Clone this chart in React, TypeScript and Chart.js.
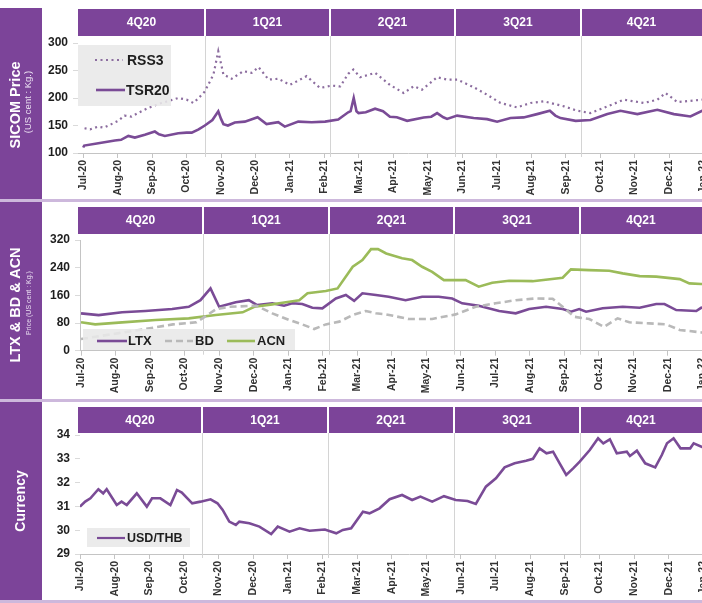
import React, { useEffect, useRef } from 'react';
import { Chart, registerables } from 'chart.js';

Chart.register(...registerables);

const FONT = '"Liberation Sans", Arial, sans-serif';
const PURPLE = '#7c4499';
const LINE_PURPLE = '#7a4b96';
const VIEW_W = 702;

const MONTHS = ['Jul-20', 'Aug-20', 'Sep-20', 'Oct-20', 'Nov-20', 'Dec-20', 'Jan-21', 'Feb-21', 'Mar-21', 'Apr-21', 'May-21', 'Jun-21', 'Jul-21', 'Aug-21', 'Sep-21', 'Oct-21', 'Nov-21', 'Dec-21', 'Jan-22', 'Feb-22'];
const QUARTERS = ['4Q20', '1Q21', '2Q21', '3Q21', '4Q21'];
// quarter header boundaries, in month index units (0 = Jul-20)
const QUARTER_BOUNDS = [3.53, 7.17, 10.79, 14.45];

// [month index, value]
const RSS3: [number, number][] = [[0.04,145],[0.2,143],[0.43,148],[0.6,146],[0.82,152.5],[1.0,158],[1.2,168],[1.4,166],[1.59,172.6],[1.88,181.7],[2.27,190.9],[2.5,195],[2.76,200],[3.0,197],[3.2,190.9],[3.35,200],[3.53,212],[3.78,242.6],[3.92,285],[4.07,242.6],[4.31,235],[4.65,248.8],[4.89,245.7],[5.09,256],[5.38,233.5],[5.66,235],[6.0,224],[6.24,231.6],[6.48,239.7],[6.87,218.3],[7.21,222.5],[7.46,221],[7.69,244],[7.84,251.7],[8.04,237.8],[8.47,245.7],[8.9,224],[9.3,209],[9.59,221.4],[9.83,215.2],[10.27,237.8],[10.56,233.5],[10.85,233.5],[11.33,219.6],[11.72,206],[12.11,190.9],[12.59,183],[12.98,190.9],[13.37,194],[13.95,184.8],[14.34,176.8],[14.72,172.6],[15.21,184.8],[15.69,196.9],[16.27,190.9],[16.66,196.9],[16.9,209],[17.24,192.7],[17.96,196.9],[18.1,197]];
const TSR20: [number, number][] = [[0.0,110],[0.03,113.5],[0.44,117.7],[0.92,122.6],[1.1,124],[1.31,131],[1.5,128],[1.79,133],[2.08,139],[2.2,134],[2.37,131],[2.76,136],[3.0,137],[3.15,137],[3.35,143],[3.53,150],[3.75,160],[3.92,175.7],[4.0,162],[4.07,152.5],[4.2,150],[4.4,155.5],[4.69,157],[5.06,165],[5.32,152.5],[5.66,156],[5.85,148],[6.24,157],[6.63,156],[7.02,157],[7.4,161],[7.69,174],[7.76,176],[7.85,200],[7.93,176],[7.99,172.6],[8.2,174],[8.47,180.5],[8.7,176],[8.9,166],[9.1,165],[9.4,158.5],[9.88,164.7],[10.1,166],[10.27,172.6],[10.45,165],[10.56,162],[10.85,168],[11.33,163.5],[11.72,161.6],[12.01,157],[12.4,163.5],[12.78,164.7],[13.17,170.7],[13.54,176.8],[13.7,168],[13.85,163.5],[14.29,158.5],[14.72,160],[15.21,170.7],[15.59,176.8],[16.08,170.7],[16.66,178.6],[17.14,170.7],[17.62,166.5],[17.96,176.8],[18.1,178]];

const LTX: [number, number][] = [[0,108],[0.51,103],[1.19,111],[1.86,114.7],[2.64,120.5],[3.12,127],[3.46,146],[3.75,180],[4.0,127],[4.48,140],[4.86,146],[5.1,132],[5.54,137],[5.88,130],[6.12,137],[6.41,135],[6.7,124],[6.99,122.5],[7.38,151],[7.67,161],[7.91,144],[8.15,166],[8.54,161],[8.91,156],[9.4,146],[9.88,156],[10.36,156],[10.75,151],[11.04,137],[11.52,130],[12.11,115],[12.59,108],[12.98,120.5],[13.47,127],[13.95,120.5],[14.19,112.7],[14.43,120.5],[14.63,112.7],[15.11,122.5],[15.69,127],[16.18,124],[16.66,135],[16.9,135],[17.24,117.5],[17.82,114.7],[17.96,124],[18.1,126]];
const BD: [number, number][] = [[0,33.8],[0.72,45],[1.69,60],[2.66,76],[3.34,82],[3.58,98],[3.92,120.5],[4.3,127],[5.08,130],[5.54,108],[6.03,88.7],[6.41,76],[6.75,62.7],[7.09,76],[7.48,84],[7.87,103],[8.25,114.7],[8.54,108],[8.84,105],[9.49,91.6],[10.17,91.6],[10.85,105],[11.43,127],[12.01,137],[12.59,146],[13.17,151],[13.66,150],[13.95,127],[14.29,98],[14.72,91.6],[15.15,69],[15.54,93.5],[15.88,82],[16.46,79],[16.95,76],[17.34,60],[17.96,53],[18.1,52]];
const ACN: [number, number][] = [[0,82],[0.41,76],[1.19,82],[2.16,88.7],[3.12,93.5],[3.9,103],[4.68,111],[5.02,127],[5.54,134],[6.03,141.5],[6.32,146],[6.56,166],[7.09,172.4],[7.43,180],[7.87,242.6],[8.15,262],[8.4,293.7],[8.6,293.7],[8.84,281],[9.3,267],[9.59,262],[9.88,242.6],[10.17,228],[10.51,204],[11.14,204],[11.52,185],[11.91,196.5],[12.4,202],[13.08,201],[13.95,211],[14.19,235],[14.72,233],[15.3,231],[15.69,223.5],[16.18,215.7],[16.66,214],[17.34,207],[17.62,194.7],[17.96,193],[18.1,193]];

const USD_THB: [number, number][] = [[0.0,30.99],[0.15,31.2],[0.3,31.34],[0.53,31.72],[0.67,31.55],[0.77,31.72],[1.06,31.06],[1.2,31.2],[1.35,31.06],[1.64,31.55],[1.93,30.99],[2.08,31.34],[2.32,31.34],[2.61,31.06],[2.8,31.69],[2.94,31.58],[3.24,31.13],[3.48,31.2],[3.77,31.3],[3.97,31.13],[4.12,30.85],[4.31,30.36],[4.5,30.22],[4.6,30.36],[4.89,30.29],[5.18,30.15],[5.52,29.84],[5.71,30.15],[6.05,29.94],[6.34,30.08],[6.63,29.98],[7.07,30.03],[7.4,29.87],[7.59,30.01],[7.83,30.08],[8.17,30.78],[8.36,30.71],[8.65,30.92],[8.94,31.3],[9.3,31.48],[9.59,31.27],[9.83,31.41],[10.17,31.2],[10.51,31.43],[10.85,31.27],[11.19,31.23],[11.43,31.1],[11.72,31.83],[12.01,32.18],[12.26,32.64],[12.55,32.81],[12.88,32.92],[13.08,33.0],[13.27,33.44],[13.47,33.23],[13.66,33.3],[13.85,32.81],[14.04,32.32],[14.24,32.6],[14.43,32.88],[14.72,33.37],[14.96,33.86],[15.11,33.65],[15.3,33.82],[15.5,33.23],[15.79,33.3],[15.88,33.12],[16.08,33.34],[16.32,32.81],[16.61,32.64],[16.8,33.16],[16.95,33.65],[17.14,33.86],[17.34,33.44],[17.62,33.44],[17.72,33.65],[17.96,33.5],[18.1,33.5]];

type Series = { label: string; data: [number, number][]; color: string; width: number; dash: number[] };

type PanelProps = {
  top: number;
  height: number;
  yAxisWidth: number;
  xMin: number;
  pxPerMonth: number;
  yMin: number;
  yMax: number;
  yStep: number;
  padTop: number;
  xAxisH: number;
  hTop: number;
  hBottom: number;
  yBorder: boolean;
  series: Series[];
};

function PanelChart(p: PanelProps) {
  const ref = useRef<HTMLCanvasElement>(null);
  const xMax = 19;
  const width = Math.round(p.yAxisWidth + (xMax - p.xMin) * p.pxPerMonth);
  useEffect(() => {
    const canvas = ref.current!;
    const headerLeft = 78;
    const headerPlugin = {
      id: 'qheader',
      beforeDatasetsDraw(chart: any) {
        const { ctx, chartArea, scales } = chart;
        const x = scales.x;
        ctx.save();
        ctx.strokeStyle = '#d4d4d4';
        ctx.lineWidth = 1;
        QUARTER_BOUNDS.forEach((q) => {
          const px = Math.round(x.getPixelForValue(q)) + 0.5;
          ctx.beginPath();
          ctx.moveTo(px, p.hBottom);
          ctx.lineTo(px, chartArea.bottom + 4);
          ctx.stroke();
        });
        ctx.restore();
      },
      afterDraw(chart: any) {
        const { ctx, scales } = chart;
        const x = scales.x;
        ctx.save();
        ctx.fillStyle = PURPLE;
        ctx.fillRect(headerLeft, p.hTop, chart.width - headerLeft, p.hBottom - p.hTop);
        const xs = QUARTER_BOUNDS.map((q) => Math.round(x.getPixelForValue(q)));
        ctx.fillStyle = '#ffffff';
        xs.forEach((px) => ctx.fillRect(px - 1, p.hTop, 2, p.hBottom - p.hTop));
        const edges = [headerLeft, ...xs, VIEW_W];
        ctx.font = `bold 12px ${FONT}`;
        ctx.textAlign = 'center';
        ctx.textBaseline = 'middle';
        QUARTERS.forEach((q, i) => ctx.fillText(q, (edges[i] + edges[i + 1]) / 2, (p.hTop + p.hBottom) / 2 + 0.5));
        ctx.restore();
      },
    };
    const chart = new Chart(canvas, {
      type: 'line',
      data: {
        datasets: p.series.map((s) => ({
          label: s.label,
          data: s.data.map(([x, y]) => ({ x, y })),
          borderColor: s.color,
          backgroundColor: s.color,
          borderWidth: s.width,
          borderDash: s.dash,
          pointRadius: 0,
          tension: 0,
          fill: false,
        })),
      },
      options: {
        responsive: false,
        animation: false,
        devicePixelRatio: 1,
        events: [],
        layout: { padding: { top: p.padTop, left: 0, right: 0, bottom: 0 }, autoPadding: false },
        plugins: { legend: { display: false }, tooltip: { enabled: false } },
        scales: {
          x: {
            type: 'linear',
            min: p.xMin,
            max: xMax,
            afterBuildTicks: (s: any) => {
              s.ticks = s.ticks.filter((t: any) => Number.isInteger(t.value) && t.value < xMax);
            },
            afterFit: (s: any) => {
              s.height = p.xAxisH;
              s.paddingLeft = 0;
              s.paddingRight = 0;
            },
            ticks: {
              stepSize: 1,
              includeBounds: false,
              autoSkip: false,
              maxRotation: 90,
              minRotation: 90,
              padding: 2,
              color: '#333333',
              font: { family: FONT, size: 10.5, weight: 'bold' },
              callback: (v: any) => (Number.isInteger(v) ? MONTHS[v] ?? '' : ''),
            },
            grid: { drawOnChartArea: false, tickLength: 5, color: '#c4c4c4' },
            border: { color: '#c4c4c4', width: 1 },
          },
          y: {
            min: p.yMin,
            max: p.yMax,
            afterFit: (s: any) => {
              s.width = p.yAxisWidth;
              s.paddingTop = 0;
              s.paddingBottom = 0;
            },
            ticks: {
              stepSize: p.yStep,
              padding: 5,
              color: '#1e1e1e',
              font: { family: FONT, size: 12, weight: 'bold' },
            },
            grid: { drawOnChartArea: false, tickLength: 5, color: '#dadada' },
            border: { display: p.yBorder, color: '#c4c4c4', width: 1 },
          },
        },
      },
      plugins: [headerPlugin],
    } as any);
    return () => chart.destroy();
  }, []);
  return (
    <canvas
      ref={ref}
      width={width}
      height={p.height}
      style={{ position: 'absolute', left: 0, top: p.top, width, height: p.height }}
    />
  );
}

function SideLabel({ cx, cy, text, size, bold, color }: { cx: number; cy: number; text: string; size: number; bold?: boolean; color?: string }) {
  return (
    <div
      style={{
        position: 'absolute',
        left: cx,
        top: cy,
        transform: 'translate(-50%, -50%) rotate(-90deg)',
        whiteSpace: 'nowrap',
        fontFamily: FONT,
        fontSize: size,
        fontWeight: bold ? 700 : 400,
        color: color ?? '#ffffff',
        lineHeight: 1,
      }}
    >
      {text}
    </div>
  );
}

function LegendSample({ x1, x2, y, color, dash, width }: { x1: number; x2: number; y: number; color: string; dash?: string; width: number }) {
  return (
    <svg style={{ position: 'absolute', left: x1, top: y - 4, overflow: 'visible' }} width={x2 - x1} height={8}>
      <line x1={0} y1={4} x2={x2 - x1} y2={4} stroke={color} strokeWidth={width} strokeDasharray={dash} />
    </svg>
  );
}

function LegendText({ x, y, text, size }: { x: number; y: number; text: string; size: number }) {
  return (
    <div
      style={{
        position: 'absolute',
        left: x,
        top: y - 8,
        height: 16,
        lineHeight: '16px',
        fontFamily: FONT,
        fontSize: size,
        fontWeight: 700,
        color: '#1e1e1e',
        whiteSpace: 'nowrap',
      }}
    >
      {text}
    </div>
  );
}

const legendBox = (left: number, top: number, w: number, h: number) => (
  <div style={{ position: 'absolute', left, top, width: w, height: h, background: 'rgba(232,232,232,0.88)' }} />
);

export default function App() {
  const panel1: Series[] = [
    { label: 'RSS3', data: RSS3, color: '#8c6d9f', width: 2.2, dash: [2, 3.5] },
    { label: 'TSR20', data: TSR20, color: LINE_PURPLE, width: 2.6, dash: [] },
  ];
  const panel2: Series[] = [
    { label: 'BD', data: BD, color: '#b9b9b9', width: 2.6, dash: [7, 4] },
    { label: 'ACN', data: ACN, color: '#9bbb59', width: 2.6, dash: [] },
    { label: 'LTX', data: LTX, color: LINE_PURPLE, width: 2.6, dash: [] },
  ];
  const panel3: Series[] = [{ label: 'USD/THB', data: USD_THB, color: LINE_PURPLE, width: 2.6, dash: [] }];

  return (
    <div style={{ position: 'fixed', left: 0, top: 0, width: 702, height: 603, overflow: 'hidden', background: '#ffffff' }}>
      {/* sidebars */}
      <div style={{ position: 'absolute', left: 0, top: 8, width: 42, height: 191, background: PURPLE }} />
      <div style={{ position: 'absolute', left: 0, top: 202, width: 42, height: 197, background: PURPLE }} />
      <div style={{ position: 'absolute', left: 0, top: 402, width: 42, height: 198, background: PURPLE }} />

      <PanelChart top={0} height={200} yAxisWidth={78} xMin={-0.15} pxPerMonth={34.44} yMin={100} yMax={300} yStep={50} padTop={43} xAxisH={47} hTop={9} hBottom={36} yBorder={false} series={panel1} />
      <PanelChart top={200} height={200} yAxisWidth={80} xMin={-0.03} pxPerMonth={34.5} yMin={0} yMax={320} yStep={80} padTop={40} xAxisH={49.3} hTop={7} hBottom={34} yBorder={true} series={panel2} />
      <PanelChart top={400} height={203} yAxisWidth={80} xMin={0} pxPerMonth={34.64} yMin={29} yMax={34} yStep={1} padTop={35} xAxisH={49} hTop={7} hBottom={33} yBorder={false} series={panel3} />

      {/* panel separators */}
      <div style={{ position: 'absolute', left: 0, top: 199, width: 702, height: 3, background: '#cdb8dc' }} />
      <div style={{ position: 'absolute', left: 0, top: 399, width: 702, height: 3, background: '#cdb8dc' }} />
      <div style={{ position: 'absolute', left: 0, top: 600, width: 702, height: 3, background: '#cdb8dc' }} />

      {/* side titles */}
      <SideLabel cx={15} cy={105} text="SICOM Price" size={14.5} bold />
      <SideLabel cx={27.5} cy={102} text="(US cent : Kg.)" size={9.5} color="#eadff1" />
      <SideLabel cx={15} cy={305} text="LTX & BD & ACN" size={14.5} bold />
      <SideLabel cx={28} cy={303} text="Price  (US cent : Kg.)" size={7} color="#eadff1" />
      <SideLabel cx={20} cy={501} text="Currency" size={14} bold />

      {/* legend panel 1 */}
      {legendBox(78, 45, 93, 61)}
      <LegendSample x1={95} x2={123} y={60} color="#8c6d9f" width={2.2} dash="2 3.5" />
      <LegendText x={127} y={60} text="RSS3" size={14} />
      <LegendSample x1={96} x2={125} y={90} color={LINE_PURPLE} width={2.6} />
      <LegendText x={126} y={90} text="TSR20" size={14} />

      {/* legend panel 2 */}
      {legendBox(83, 329, 212, 21)}
      <LegendSample x1={97} x2={127} y={340.5} color={LINE_PURPLE} width={2.6} />
      <LegendText x={128} y={340.5} text="LTX" size={13} />
      <LegendSample x1={165} x2={193} y={340.5} color="#b9b9b9" width={2.6} dash="7 4" />
      <LegendText x={195} y={340.5} text="BD" size={13} />
      <LegendSample x1={227} x2={255} y={340.5} color="#9bbb59" width={2.6} />
      <LegendText x={257} y={340.5} text="ACN" size={13} />

      {/* legend panel 3 */}
      {legendBox(87, 528, 103, 19)}
      <LegendSample x1={97} x2={125} y={538} color={LINE_PURPLE} width={2.2} />
      <LegendText x={127} y={538} text="USD/THB" size={12.5} />
    </div>
  );
}
